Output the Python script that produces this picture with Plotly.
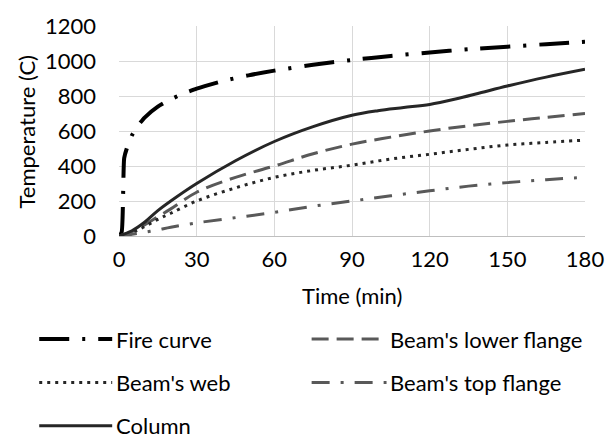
import plotly.graph_objects as go

# ---- data (minutes, degrees C) ----
fire_t = [0, 1, 2, 3, 5, 7, 10, 15, 20, 25, 30, 40, 50, 60, 75, 90, 105, 120, 135, 150, 165, 180]
fire_T = [0, 20, 445, 500, 575, 625, 678, 739, 781, 815, 842, 885, 918, 945, 979, 1006, 1029, 1049, 1067, 1082, 1096, 1110]

lower_t = [0, 5, 10, 15, 20, 30, 45, 60, 75, 90, 105, 120, 135, 150, 165, 180]
lower_T = [0, 25, 65, 110, 155, 250, 335, 400, 470, 525, 565, 600, 630, 655, 678, 700]

web_t = [0, 5, 10, 15, 20, 30, 45, 60, 75, 90, 105, 120, 135, 150, 165, 180]
web_T = [0, 20, 55, 95, 130, 200, 275, 335, 375, 405, 440, 467, 495, 520, 535, 548]

top_t = [0, 5, 10, 15, 20, 30, 45, 60, 75, 90, 105, 120, 135, 150, 165, 180]
top_T = [0, 10, 22, 35, 50, 75, 105, 135, 170, 200, 230, 258, 285, 305, 322, 335]

col_t = [0, 5, 10, 15, 20, 30, 45, 60, 75, 90, 100, 110, 120, 130, 140, 150, 165, 180]
col_T = [0, 30, 80, 145, 200, 300, 430, 540, 625, 690, 716, 734, 752, 783, 820, 857, 908, 953]

x_ticks = [0, 30, 60, 90, 120, 150, 180]
y_ticks = [0, 200, 400, 600, 800, 1000, 1200]

FONT = "Lato"
FS = 22
W, H = 616, 445
L, R, T, B = 119, 598, 18, 236  # plot area in pixels

series = [
    dict(name="Fire curve", x=fire_t, y=fire_T, color="#000000", width=4,
         dash="30px,13px,3px,13px", smooth=0.5),
    dict(name="Beam's lower flange", x=lower_t, y=lower_T, color="#595959", width=3,
         dash="17px,8px", smooth=1.0),
    dict(name="Beam's web", x=web_t, y=web_T, color="#262626", width=3,
         dash="3px,5px", smooth=1.0),
    dict(name="Beam's top flange", x=top_t, y=top_T, color="#595959", width=3,
         dash="18px,11px,3px,11px", smooth=1.0),
    dict(name="Column", x=col_t, y=col_T, color="#262626", width=3, dash="solid",
         smooth=1.0),
]

fig = go.Figure()
for s in series:
    fig.add_trace(go.Scatter(
        x=s["x"], y=s["y"], mode="lines", name=s["name"], showlegend=False,
        line=dict(color=s["color"], width=s["width"], dash=s["dash"],
                  shape="spline", smoothing=s["smooth"]),
    ))


def px_x(p):
    return (p - L) / (R - L)


def px_y(p):
    return (B - p) / (B - T)


# legend block below the plot: sample line + label
legend_pos = [
    (37, 112, 343),
    (317, 394, 343),
    (37, 112, 388),
    (317, 394, 388),
    (37, 112, 433),
]
shapes = []
annotations = []
for s, (xa, xb, yy) in zip(series, legend_pos):
    shapes.append(dict(type="line", xref="paper", yref="paper",
                       x0=px_x(xa), x1=px_x(xb), y0=px_y(yy), y1=px_y(yy),
                       line=dict(color=s["color"], width=s["width"], dash=s["dash"])))
    annotations.append(dict(text=s["name"], xref="paper", yref="paper",
                            x=px_x(xb + 2), y=px_y(yy), xanchor="left", yanchor="middle",
                            showarrow=False, font=dict(family=FONT, size=FS, color="#000000")))

annotations.append(dict(text="Temperature (C)", xref="paper", yref="paper",
                        x=px_x(24), y=px_y(128), xanchor="center", yanchor="middle",
                        textangle=-90, showarrow=False,
                        font=dict(family=FONT, size=FS, color="#000000")))
annotations.append(dict(text="Time (min)", xref="paper", yref="paper",
                        x=0.5, y=px_y(298), xanchor="center", yanchor="middle",
                        showarrow=False, font=dict(family=FONT, size=FS, color="#000000")))

fig.update_layout(
    width=W, height=H,
    margin=dict(l=L, r=W - R, t=T, b=H - B),
    paper_bgcolor="white", plot_bgcolor="white",
    font=dict(family=FONT, size=FS, color="#000000"),
    shapes=shapes, annotations=annotations,
)
fig.update_xaxes(range=[0, 180], tickvals=x_ticks, showgrid=True, gridcolor="#d9d9d9",
                 gridwidth=1, zeroline=False, showline=True, linecolor="#bfbfbf",
                 linewidth=1, ticks="", ticklabelstandoff=4, ticklabeloverflow="allow",
                 tickfont=dict(family=FONT, size=FS, color="#000000"))
fig.update_yaxes(range=[0, 1200], tickvals=y_ticks, showgrid=True, gridcolor="#d9d9d9",
                 gridwidth=1, zeroline=False, showline=False, ticks="",
                 ticklabelstandoff=22, ticklabeloverflow="allow",
                 tickfont=dict(family=FONT, size=FS, color="#000000"))

fig.write_html("out.html")
